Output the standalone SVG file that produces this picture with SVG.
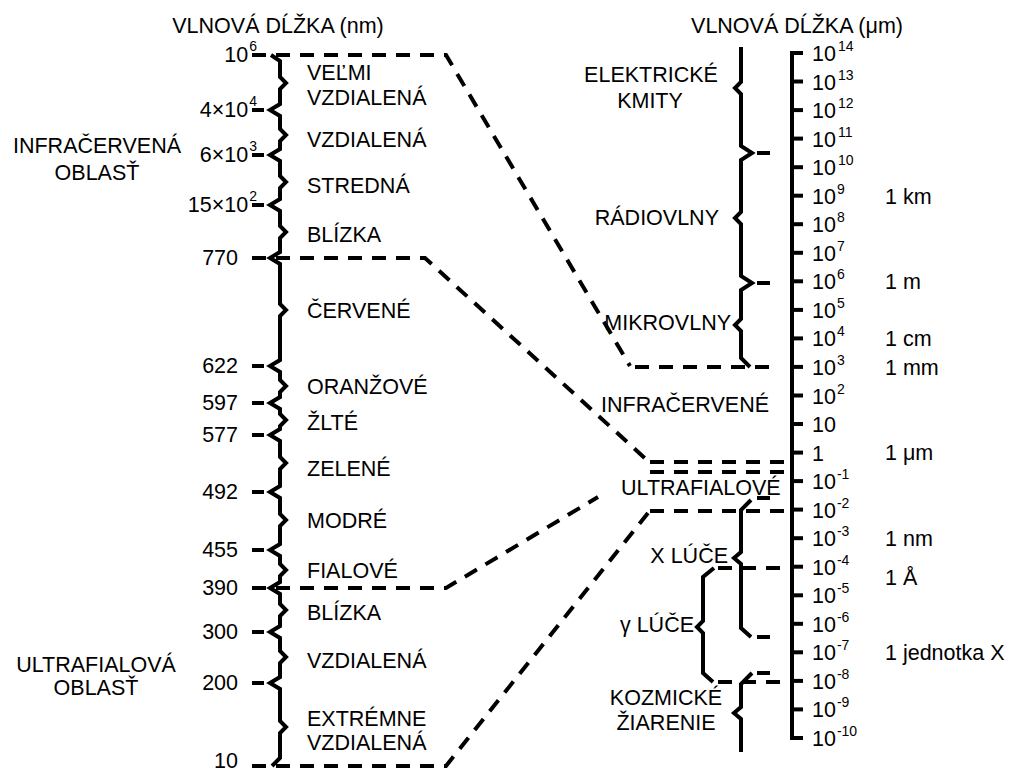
<svg xmlns="http://www.w3.org/2000/svg" width="1010" height="772" viewBox="0 0 1010 772">
<style>
text{font-family:"Liberation Sans",Arial,sans-serif;font-size:21.5px;fill:#000}
.s{font-size:14px}
.m{text-anchor:middle}
.e{text-anchor:end}
.ax{fill:none;stroke:#000;stroke-width:4;stroke-linejoin:miter}
.tk{stroke:#000;stroke-width:4}
.d{fill:none;stroke:#000;stroke-width:4;stroke-dasharray:14 10}
</style>
<rect width="1010" height="772" fill="#fff"/>

<g id="headers">
<text class="m" x="278" y="33">VLNOVÁ DĹŽKA (nm)</text>
<text class="m" x="797" y="33">VLNOVÁ DĹŽKA (μm)</text>
</g>

<g id="left-axis">
<path class="ax" d="M271,55 L280,61 V77 L286,83 L280,89 V104 L270,110 L280,116 V129 L286,135 L280,141 V149 L270,155 L280,161 V176 L286,182 L280,188 V199 L270,205 L280,211 V226 L286,232 L280,238 V252 L270,258 L280,264 V304 L286,310 L280,316 V360 L270,366 L280,372 V380 L286,386 L280,392 V397 L270,403 L280,409 V414 L286,420 L280,426 V429 L270,435 L280,441 V457 L286,463 L280,469 V486 L270,492 L280,498 V514 L286,520 L280,526 V544 L270,550 L280,556 V564 L286,570 L280,576 V582 L270,588 L280,594 V604 L286,610 L280,616 V626 L270,632 L280,638 V651 L286,657 L280,663 V677 L270,683 L280,689 V721 L286,727 L280,733 V758 L272,766"/>
<g class="tk">
<line x1="252" y1="110" x2="264" y2="110"/>
<line x1="252" y1="155" x2="264" y2="155"/>
<line x1="252" y1="205" x2="264" y2="205"/>
<line x1="252" y1="366" x2="264" y2="366"/>
<line x1="252" y1="403" x2="264" y2="403"/>
<line x1="252" y1="435" x2="264" y2="435"/>
<line x1="252" y1="492" x2="264" y2="492"/>
<line x1="252" y1="550" x2="264" y2="550"/>
<line x1="252" y1="632" x2="264" y2="632"/>
<line x1="252" y1="683" x2="264" y2="683"/>
</g>
<text class="e" x="257" y="62">10<tspan class="s" dy="-11" dx="1">6</tspan></text>
<text class="e" x="257" y="117">4×10<tspan class="s" dy="-11" dx="1">4</tspan></text>
<text class="e" x="257" y="162">6×10<tspan class="s" dy="-11" dx="1">3</tspan></text>
<text class="e" x="257" y="212">15×10<tspan class="s" dy="-11" dx="1">2</tspan></text>
<text class="e" x="238" y="265">770</text>
<text class="e" x="238" y="373">622</text>
<text class="e" x="238" y="410">597</text>
<text class="e" x="238" y="442">577</text>
<text class="e" x="238" y="499">492</text>
<text class="e" x="238" y="557">455</text>
<text class="e" x="238" y="595">390</text>
<text class="e" x="238" y="639">300</text>
<text class="e" x="238" y="690">200</text>
<text class="e" x="238" y="768">10</text>
</g>

<g id="left-regions">
<text class="m" x="97" y="153">INFRAČERVENÁ</text>
<text class="m" x="97" y="180">OBLASŤ</text>
<text class="m" x="96" y="672">ULTRAFIALOVÁ</text>
<text class="m" x="96" y="695">OBLASŤ</text>
</g>

<g id="left-bands">
<text x="307" y="80">VEĽMI</text>
<text x="307" y="105">VZDIALENÁ</text>
<text x="307" y="147">VZDIALENÁ</text>
<text x="307" y="193">STREDNÁ</text>
<text x="307" y="242">BLÍZKA</text>
<text x="307" y="318">ČERVENÉ</text>
<text x="307" y="394">ORANŽOVÉ</text>
<text x="307" y="430">ŽLTÉ</text>
<text x="307" y="476">ZELENÉ</text>
<text x="307" y="528">MODRÉ</text>
<text x="307" y="578">FIALOVÉ</text>
<text x="307" y="620">BLÍZKA</text>
<text x="307" y="668">VZDIALENÁ</text>
<text x="307" y="726">EXTRÉMNE</text>
<text x="307" y="750">VZDIALENÁ</text>
</g>

<g id="connectors">
<path class="d" d="M252,55 H446 L630,366"/>
<path class="d" d="M635,367 H770"/>
<path class="d" d="M252,258 H425 L648,461"/>
<path class="d" d="M650,462 H790"/>
<path class="d" d="M650,472 H790"/>
<path class="d" d="M252,588 H446 L598,497"/>
<path class="d" d="M252,766 H446 L648,513"/>
<path class="d" d="M650,511 H790"/>
<path class="d" d="M718,568 H792"/>
<path class="d" d="M718,682 H792"/>
</g>

<g id="right-braces">
<path class="ax" d="M741,47 V82 L735,88 L741,94 V146 L752,153 L741,160 V212 L735,218 L741,224 V276 L752,283 L741,290 V319 L735,325 L741,331 V358 L750,367"/>
<path class="ax" d="M751,500 L741,510 V552 L734,558 L741,564 V628 L751,637"/>
<path class="ax" d="M714,568 L703,577 V621 L697,627 L703,633 V673 L713,682"/>
<path class="ax" d="M752,673 L741,684 V707 L734,713 L741,719 V752"/>
<g class="tk">
<line x1="757" y1="153" x2="770" y2="153"/>
<line x1="757" y1="283" x2="770" y2="283"/>
<line x1="757" y1="498" x2="770" y2="498"/>
<line x1="757" y1="637" x2="770" y2="637"/>
<line x1="757" y1="673" x2="770" y2="673"/>
</g>
</g>

<g id="right-regions">
<text class="m" x="651" y="82">ELEKTRICKÉ</text>
<text class="m" x="650" y="108">KMITY</text>
<text class="e" x="719" y="225">RÁDIOVLNY</text>
<text class="e" x="731" y="330">MIKROVLNY</text>
<text x="601" y="412">INFRAČERVENÉ</text>
<text x="621" y="495">ULTRAFIALOVÉ</text>
<text class="e" x="728" y="563">X LÚČE</text>
<text class="e" x="694" y="632">γ LÚČE</text>
<text class="m" x="666" y="705">KOZMICKÉ</text>
<text class="m" x="666" y="730">ŽIARENIE</text>
</g>

<g id="right-axis">
<path class="ax" d="M792,53 V739"/>
<g class="tk">
<line x1="790" y1="53" x2="803" y2="53"/>
<line x1="792" y1="81.5" x2="803" y2="81.5"/>
<line x1="792" y1="110.1" x2="803" y2="110.1"/>
<line x1="792" y1="138.6" x2="803" y2="138.6"/>
<line x1="792" y1="167.2" x2="803" y2="167.2"/>
<line x1="792" y1="195.7" x2="803" y2="195.7"/>
<line x1="792" y1="224.2" x2="803" y2="224.2"/>
<line x1="792" y1="252.8" x2="803" y2="252.8"/>
<line x1="792" y1="281.3" x2="803" y2="281.3"/>
<line x1="792" y1="309.9" x2="803" y2="309.9"/>
<line x1="792" y1="338.4" x2="803" y2="338.4"/>
<line x1="792" y1="366.9" x2="803" y2="366.9"/>
<line x1="792" y1="395.5" x2="803" y2="395.5"/>
<line x1="792" y1="424" x2="803" y2="424"/>
<line x1="792" y1="452.6" x2="803" y2="452.6"/>
<line x1="792" y1="481.1" x2="803" y2="481.1"/>
<line x1="792" y1="509.6" x2="803" y2="509.6"/>
<line x1="792" y1="538.2" x2="803" y2="538.2"/>
<line x1="792" y1="566.7" x2="803" y2="566.7"/>
<line x1="792" y1="595.3" x2="803" y2="595.3"/>
<line x1="792" y1="623.8" x2="803" y2="623.8"/>
<line x1="792" y1="652.3" x2="803" y2="652.3"/>
<line x1="792" y1="680.9" x2="803" y2="680.9"/>
<line x1="792" y1="709.4" x2="803" y2="709.4"/>
<line x1="790" y1="738" x2="803" y2="738"/>
</g>
<text x="812" y="61">10<tspan class="s" dy="-10" dx="2">14</tspan></text>
<text x="812" y="89.5">10<tspan class="s" dy="-10" dx="2">13</tspan></text>
<text x="812" y="118.1">10<tspan class="s" dy="-10" dx="2">12</tspan></text>
<text x="812" y="146.6">10<tspan class="s" dy="-10" dx="2">11</tspan></text>
<text x="812" y="175.2">10<tspan class="s" dy="-10" dx="2">10</tspan></text>
<text x="812" y="203.7">10<tspan class="s" dy="-10" dx="1">9</tspan></text>
<text x="812" y="232.2">10<tspan class="s" dy="-10" dx="1">8</tspan></text>
<text x="812" y="260.8">10<tspan class="s" dy="-10" dx="1">7</tspan></text>
<text x="812" y="289.3">10<tspan class="s" dy="-10" dx="1">6</tspan></text>
<text x="812" y="317.9">10<tspan class="s" dy="-10" dx="1">5</tspan></text>
<text x="812" y="346.4">10<tspan class="s" dy="-10" dx="1">4</tspan></text>
<text x="812" y="374.9">10<tspan class="s" dy="-10" dx="1">3</tspan></text>
<text x="812" y="403.5">10<tspan class="s" dy="-10" dx="1">2</tspan></text>
<text x="812" y="432">10</text>
<text x="812" y="460.6">1</text>
<text x="812" y="489.1">10<tspan class="s" dy="-10" dx="1">-1</tspan></text>
<text x="812" y="517.6">10<tspan class="s" dy="-10" dx="1">-2</tspan></text>
<text x="812" y="546.2">10<tspan class="s" dy="-10" dx="1">-3</tspan></text>
<text x="812" y="574.7">10<tspan class="s" dy="-10" dx="1">-4</tspan></text>
<text x="812" y="603.3">10<tspan class="s" dy="-10" dx="1">-5</tspan></text>
<text x="812" y="631.8">10<tspan class="s" dy="-10" dx="1">-6</tspan></text>
<text x="812" y="660.3">10<tspan class="s" dy="-10" dx="1">-7</tspan></text>
<text x="812" y="688.9">10<tspan class="s" dy="-10" dx="1">-8</tspan></text>
<text x="812" y="717.4">10<tspan class="s" dy="-10" dx="1">-9</tspan></text>
<text x="812" y="746">10<tspan class="s" dy="-10" dx="1">-10</tspan></text>
</g>

<g id="units">
<text x="885" y="204">1 km</text>
<text x="885" y="289">1 m</text>
<text x="885" y="346">1 cm</text>
<text x="885" y="375">1 mm</text>
<text x="885" y="460">1 μm</text>
<text x="885" y="546">1 nm</text>
<text x="885" y="585">1 Å</text>
<text x="885" y="660">1 jednotka X</text>
</g>
</svg>
